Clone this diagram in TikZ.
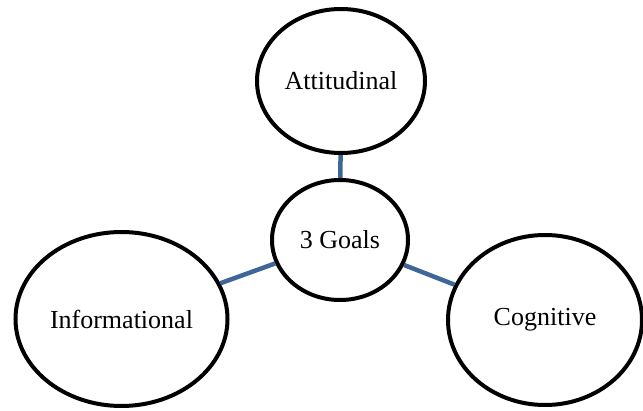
\documentclass[tikz,border=0pt]{standalone}
\usepackage{fontspec}
\setmainfont{Liberation Serif}
\usetikzlibrary{shapes.geometric}
\definecolor{connblue}{RGB}{62,102,152}
\begin{document}
\begin{tikzpicture}[x=1pt,y=1pt,
  goal/.style={ellipse,draw=black,line width=4pt,fill=white,inner sep=0pt,
    font=\fontsize{26}{30}\selectfont},
  conn/.style={draw=connblue,line width=4.5pt}]
\useasboundingbox (0,0) rectangle (643,410);
\node[goal,minimum width=168pt,minimum height=144pt] (att) at (341,329) {Attitudinal};
\node[goal,minimum width=136pt,minimum height=120pt] (goals) at (340,170) {3 Goals};
\node[goal,minimum width=212pt,minimum height=174pt] (info) at (121.5,91) {Informational};
\node[goal,minimum width=194pt,minimum height=170pt] (cog) at (545,90) {Cognitive};
\draw[conn] (goals) -- (att);
\draw[conn] (goals) -- (info);
\draw[conn] (goals) -- (cog);
\end{tikzpicture}
\end{document}
